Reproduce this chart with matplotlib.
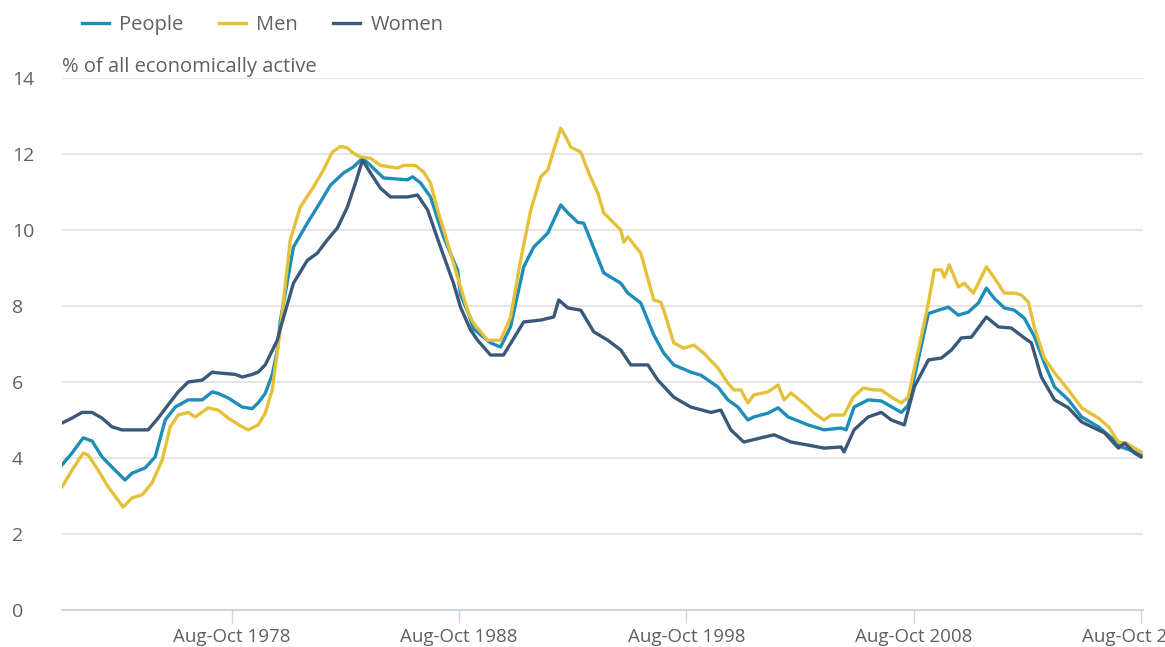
import matplotlib
matplotlib.use("Agg")
import matplotlib.pyplot as plt
import numpy as np

plt.rcParams['font.family'] = ['Open Sans', 'DejaVu Sans']

# unemployment rate, % of all economically active (3-month rolling)
people_t = [1971.29, 1971.73, 1972.22, 1972.61, 1973.05, 1973.49, 1974.06, 1974.37, 1974.95, 1975.39,
            1975.83, 1976.27, 1976.84, 1977.46, 1977.90, 1978.16, 1978.60, 1979.22, 1979.66, 1979.92,
            1980.23, 1980.54, 1980.76, 1980.89, 1981.47, 1982.08, 1982.52, 1983.10, 1983.67, 1984.11,
            1984.51, 1984.86, 1985.43, 1986.49, 1986.71, 1987.06, 1987.50, 1988.07, 1988.69, 1988.82,
            1989.17, 1989.39, 1990.14, 1990.58, 1991.02, 1991.60, 1992.04, 1992.66, 1992.92, 1993.23,
            1993.54, 1993.98, 1994.24, 1995.12, 1995.87, 1996.18, 1996.75, 1997.32, 1997.76, 1998.20,
            1998.95, 1999.39, 2000.14, 2000.58, 2001.02, 2001.46, 2001.72, 2002.34, 2002.79, 2003.23,
            2004.11, 2004.81, 2005.56, 2005.78, 2006.13, 2006.75, 2007.33, 2008.21, 2008.51, 2009.40,
            2009.84, 2010.28, 2010.72, 2011.16, 2011.60, 2011.95, 2012.30, 2012.74, 2013.18, 2013.62,
            2014.06, 2014.50, 2014.95, 2015.56, 2016.14, 2016.88, 2017.46, 2017.90, 2018.47, 2018.75]
people = [3.82, 4.13, 4.53, 4.45, 4.03, 3.76, 3.42, 3.60, 3.74, 4.03,
          5.00, 5.34, 5.53, 5.53, 5.74, 5.70, 5.58, 5.34, 5.30, 5.45,
          5.70, 6.20, 6.84, 7.60, 9.55, 10.18, 10.60, 11.18, 11.50, 11.66,
          11.89, 11.70, 11.37, 11.32, 11.40, 11.24, 10.87, 9.82, 8.95, 8.30,
          7.80, 7.40, 7.03, 6.92, 7.45, 9.03, 9.55, 9.92, 10.26, 10.66,
          10.45, 10.20, 10.18, 8.87, 8.60, 8.34, 8.08, 7.24, 6.76, 6.45,
          6.26, 6.18, 5.87, 5.53, 5.34, 5.00, 5.08, 5.18, 5.32, 5.08,
          4.87, 4.74, 4.79, 4.74, 5.34, 5.53, 5.50, 5.20, 5.39, 7.80,
          7.89, 7.97, 7.76, 7.84, 8.08, 8.47, 8.20, 7.95, 7.89, 7.68,
          7.20, 6.50, 5.87, 5.53, 5.08, 4.82, 4.53, 4.29, 4.16, 4.08]

men_t = [1971.29, 1971.73, 1972.22, 1972.44, 1972.88, 1973.32, 1973.98, 1974.37, 1974.81, 1975.25,
         1975.70, 1976.05, 1976.40, 1976.84, 1977.15, 1977.72, 1978.16, 1978.60, 1979.22, 1979.48,
         1979.92, 1980.23, 1980.54, 1980.89, 1981.33, 1981.77, 1982.35, 1982.79, 1983.18, 1983.53,
         1983.84, 1984.11, 1984.42, 1984.86, 1985.30, 1986.05, 1986.31, 1986.84, 1987.19, 1987.50,
         1987.81, 1988.25, 1988.69, 1989.17, 1989.39, 1990.01, 1990.58, 1991.02, 1991.46, 1991.91,
         1992.35, 1992.66, 1992.92, 1993.23, 1993.45, 1993.67, 1994.11, 1994.46, 1994.86, 1995.12,
         1995.87, 1996.00, 1996.18, 1996.75, 1997.32, 1997.63, 1997.76, 1998.20, 1998.64, 1999.08,
         1999.52, 2000.14, 2000.58, 2000.85, 2001.15, 2001.46, 2001.72, 2002.34, 2002.79, 2003.05,
         2003.36, 2004.11, 2004.37, 2004.81, 2005.12, 2005.69, 2006.09, 2006.53, 2007.02, 2007.33,
         2007.77, 2008.21, 2008.51, 2008.96, 2009.40, 2009.66, 2009.97, 2010.10, 2010.32, 2010.72,
         2010.98, 2011.38, 2011.60, 2011.95, 2012.30, 2012.74, 2013.18, 2013.49, 2013.80, 2014.06,
         2014.50, 2014.95, 2015.56, 2016.14, 2016.88, 2017.33, 2017.76, 2018.12, 2018.47, 2018.75]
men = [3.24, 3.68, 4.13, 4.08, 3.68, 3.24, 2.71, 2.95, 3.03, 3.34,
       3.95, 4.82, 5.13, 5.20, 5.08, 5.32, 5.26, 5.05, 4.82, 4.74,
       4.87, 5.18, 5.80, 7.37, 9.74, 10.60, 11.13, 11.58, 12.05, 12.20,
       12.16, 12.02, 11.92, 11.89, 11.70, 11.63, 11.70, 11.70, 11.53, 11.24,
       10.53, 9.66, 8.76, 7.80, 7.55, 7.10, 7.10, 7.70, 9.20, 10.53,
       11.40, 11.58, 12.10, 12.68, 12.45, 12.18, 12.05, 11.50, 10.97, 10.45,
       10.00, 9.68, 9.82, 9.39, 8.16, 8.10, 7.89, 7.03, 6.89, 6.97,
       6.76, 6.37, 5.97, 5.79, 5.79, 5.45, 5.66, 5.74, 5.92, 5.53,
       5.71, 5.34, 5.18, 5.00, 5.13, 5.13, 5.60, 5.84, 5.79, 5.79,
       5.60, 5.45, 5.60, 6.84, 8.08, 8.95, 8.95, 8.76, 9.08, 8.50,
       8.60, 8.34, 8.60, 9.03, 8.74, 8.34, 8.34, 8.29, 8.10, 7.45,
       6.63, 6.24, 5.79, 5.32, 5.05, 4.82, 4.42, 4.39, 4.26, 4.16]

women_t = [1971.29, 1971.73, 1972.17, 1972.61, 1973.05, 1973.49, 1973.93, 1975.08, 1975.52, 1975.96,
           1976.40, 1976.84, 1977.46, 1977.90, 1978.16, 1978.91, 1979.22, 1979.66, 1979.92, 1980.23,
           1980.76, 1980.89, 1981.47, 1982.08, 1982.52, 1982.96, 1983.40, 1983.84, 1984.20, 1984.51,
           1984.86, 1985.30, 1985.74, 1986.49, 1986.93, 1987.37, 1987.94, 1988.51, 1988.82, 1989.26,
           1989.57, 1990.14, 1990.71, 1991.60, 1992.35, 1992.92, 1993.14, 1993.54, 1994.11, 1994.68,
           1995.30, 1995.87, 1996.31, 1997.06, 1997.50, 1998.20, 1998.95, 1999.83, 2000.27, 2000.71,
           2001.28, 2002.03, 2002.61, 2003.36, 2004.11, 2004.81, 2005.56, 2005.69, 2006.13, 2006.75,
           2007.33, 2007.77, 2008.34, 2008.78, 2009.40, 2009.97, 2010.41, 2010.85, 2011.29, 2011.95,
           2012.48, 2013.05, 2013.62, 2013.93, 2014.37, 2014.95, 2015.56, 2016.14, 2016.58, 2017.15,
           2017.76, 2018.03, 2018.47, 2018.75]
women = [4.92, 5.05, 5.20, 5.20, 5.05, 4.82, 4.74, 4.74, 5.05, 5.40,
         5.74, 6.00, 6.05, 6.26, 6.24, 6.20, 6.13, 6.20, 6.26, 6.45,
         7.10, 7.40, 8.60, 9.20, 9.39, 9.74, 10.05, 10.60, 11.24, 11.84,
         11.50, 11.10, 10.87, 10.87, 10.92, 10.53, 9.55, 8.60, 7.97, 7.37,
         7.10, 6.71, 6.71, 7.58, 7.63, 7.71, 8.16, 7.95, 7.89, 7.32,
         7.10, 6.84, 6.45, 6.45, 6.05, 5.60, 5.34, 5.20, 5.26, 4.74,
         4.42, 4.53, 4.61, 4.42, 4.34, 4.26, 4.29, 4.16, 4.74, 5.08,
         5.20, 5.00, 4.87, 5.87, 6.58, 6.63, 6.84, 7.16, 7.18, 7.71,
         7.45, 7.42, 7.16, 7.03, 6.13, 5.53, 5.32, 4.95, 4.82, 4.66,
         4.26, 4.39, 4.13, 4.03]

tick_years = [1978.75, 1988.75, 1998.75, 2008.75, 2018.75]
tick_labels = ['Aug-Oct 1978', 'Aug-Oct 1988', 'Aug-Oct 1998', 'Aug-Oct 2008', 'Aug-Oct 2018']

fig = plt.figure(figsize=(11.65, 6.47), dpi=100)
ax = fig.add_axes([62/1165, 1-610/647, (1143-62)/1165, (610-78)/647])

ax.plot(people_t, people, color='#1f8db7', lw=2.4, label='People', zorder=3)
ax.plot(men_t, men, color='#e5c13a', lw=2.4, label='Men', zorder=3)
ax.plot(women_t, women, color='#3a5879', lw=2.4, label='Women', zorder=3)

ax.set_xlim(1971.29, 2018.84)
ax.set_ylim(0, 14)
ax.set_yticks(np.arange(0, 15, 2))
ax.set_xticks(tick_years)
ax.set_xticklabels(tick_labels)

ax.grid(axis='y', color='#e3e3e3', lw=1.3)
ax.set_axisbelow(True)
for s in ['top', 'right', 'left']:
    ax.spines[s].set_visible(False)
ax.spines['bottom'].set_color('#ccd6e2')
ax.spines['bottom'].set_linewidth(1.5)

ax.tick_params(axis='x', colors='#ccd6e2', length=9, width=1, labelcolor='#606060', labelsize=13.5, pad=4)
ax.tick_params(axis='y', length=0, labelcolor='#606060', labelsize=14, pad=36)
for lab in ax.get_yticklabels():
    lab.set_horizontalalignment('left')

ax.text(0, 1.0207, '% of all economically active', transform=ax.transAxes,
        fontsize=14.5, color='#606060', va='center', ha='left')

fig.legend(loc='upper left', bbox_to_anchor=(64/1165, 1.005), ncol=3, frameon=False,
           fontsize=14.5, handlelength=1.35, columnspacing=1.75, handletextpad=0.5,
           labelcolor='#606060')

fig.savefig('out.png', dpi=100)
